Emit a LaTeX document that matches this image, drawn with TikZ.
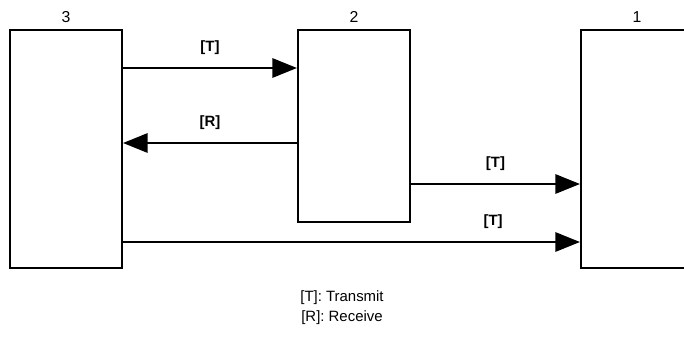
\documentclass[tikz,border=0pt]{standalone}
\usepackage{fontspec}
\setmainfont{Liberation Sans}
\usetikzlibrary{arrows.meta}
\begin{document}
\begin{tikzpicture}[unit/.style={draw, line width=1.2pt, minimum width=2.24cm, inner sep=0pt, label distance=3.5pt},
    num/.style={font=\fontsize{9}{10}\selectfont},
    sig/.style={line width=1.2pt, -{Triangle[length=14pt,width=11pt]}},
    tag/.style={font=\fontsize{8.5}{10}\selectfont\bfseries, above=3.5pt}]
    \useasboundingbox (0,0) rectangle (13.68,6.74);
    \node[unit, minimum height=4.76cm, label={[num]above:3}] (u3) at (1.32,3.76) {};
    \node[unit, minimum height=3.84cm, label={[num]above:2}] (u2) at (7.08,4.22) {};
    \node[unit, minimum height=4.76cm, label={[num]above:1}] (u1) at (12.74,3.76) {};
    \draw[sig] (u3.east |- 0,5.38) -- node[tag] {[T]} (u2.west |- 0,5.38);
    \draw[sig] (u2.west |- 0,3.88) -- node[tag] {[R]} (u3.east |- 0,3.88);
    \draw[sig] (u2.east |- 0,3.06) -- node[tag] {[T]} (u1.west |- 0,3.06);
    \draw[sig] (u3.east |- 0,1.90) -- node[tag, pos=0.81] {[T]} (u1.west |- 0,1.90);
    \node[align=center, font=\fontsize{8.5}{11.3}\selectfont] (key) at (6.84,0.58) {[T]: Transmit\\{}[R]: Receive};
\end{tikzpicture}
\end{document}
